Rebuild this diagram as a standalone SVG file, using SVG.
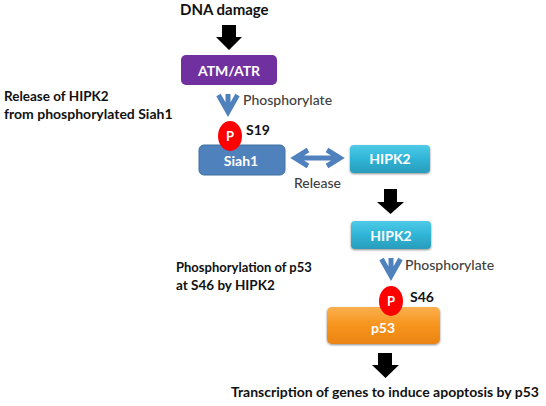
<svg xmlns="http://www.w3.org/2000/svg" width="546" height="406" viewBox="0 0 546 406">
<defs>
<linearGradient id="cy" x1="0" y1="0" x2="0" y2="1"><stop offset="0" stop-color="#4fcbe8"/><stop offset="0.5" stop-color="#2fb4d6"/><stop offset="1" stop-color="#2a9dbc"/></linearGradient>
<linearGradient id="or" x1="0" y1="0" x2="0" y2="1"><stop offset="0" stop-color="#fbb04f"/><stop offset="0.5" stop-color="#f7941e"/><stop offset="1" stop-color="#ea8412"/></linearGradient>
<filter id="sh" x="-10%" y="-10%" width="120%" height="130%"><feDropShadow dx="0" dy="1" stdDeviation="1" flood-color="#000" flood-opacity="0.45"/></filter>
</defs>
<style>
text{font-family:"Lato","Open Sans","Liberation Sans",sans-serif}
.b{font-weight:700;font-size:14px;fill:#111}
.g{font-size:14px;fill:#404040;font-weight:500}
.w{font-weight:700;fill:#fff;text-anchor:middle;font-size:14px}
.k{fill:#000}
.bl{fill:none;stroke:#4f81bd;stroke-width:5}
</style>
<rect width="546" height="406" fill="#fff"/>
<g id="connectors">
<path class="k" d="M222 25H236V37H242L229 50L216 37H222Z"/>
<path class="k" d="M384 189H397V202H404L390.500 214L377 202H384Z"/>
<path class="k" d="M378 353H392V365H399L385.500 378L372 365H378Z"/>
<path class="bl" d="M218.500 95L228 112L237.500 95M228 94V112"/>
<path class="bl" d="M381.500 259L391 276L400.500 259M391 258V276"/>
<path class="bl" d="M296 158H339M308 150L295 158L308 166M327 150L340 158L327 166"/>
</g>
<g id="atm"><rect x="181" y="55" width="96" height="30" rx="5" fill="#7030a0"/><text class="w" x="229" y="76">ATM/ATR</text></g>
<g id="siah1"><rect x="199" y="145" width="86" height="30" rx="5" fill="#4f81bd" stroke="#41719c"/><text class="w" x="241" y="166">Siah1</text></g>
<g id="p1"><ellipse cx="230" cy="136" rx="12" ry="15" fill="#f00"/><text class="w" x="230" y="141" style="font-size:13px">P</text></g>
<g id="hipk2a"><rect x="350" y="145" width="80" height="28" rx="4" fill="url(#cy)" filter="url(#sh)"/><text class="w" x="390" y="164">HIPK2</text></g>
<g id="hipk2b"><rect x="351" y="221" width="80" height="28" rx="4" fill="url(#cy)" filter="url(#sh)"/><text class="w" x="391" y="241">HIPK2</text></g>
<g id="p53"><rect x="327" y="307" width="113" height="37" rx="5" fill="url(#or)" filter="url(#sh)"/><text class="w" x="383" y="333">p53</text></g>
<g id="p2"><ellipse cx="391" cy="301" rx="12" ry="15" fill="#f00"/><text class="w" x="391" y="306" style="font-size:13px">P</text></g>
<text class="b" x="180" y="15" style="font-size:15px">DNA damage</text>
<text class="g" x="243" y="105">Phosphorylate</text>
<text class="g" x="405" y="270">Phosphorylate</text>
<text class="g" x="294" y="188">Release</text>
<text class="b" x="246" y="135">S19</text>
<text class="b" x="410" y="302">S46</text>
<text class="b" x="4" y="101" style="font-size:13.500px">Release of HIPK2</text>
<text class="b" x="4" y="119">from phosphorylated Siah1</text>
<text class="b" x="176" y="272" style="font-size:13px">Phosphorylation of p53</text>
<text class="b" x="176" y="290" style="font-size:13.500px">at S46 by HIPK2</text>
<text class="b" x="231" y="397">Transcription of genes to induce apoptosis by p53</text>
</svg>
